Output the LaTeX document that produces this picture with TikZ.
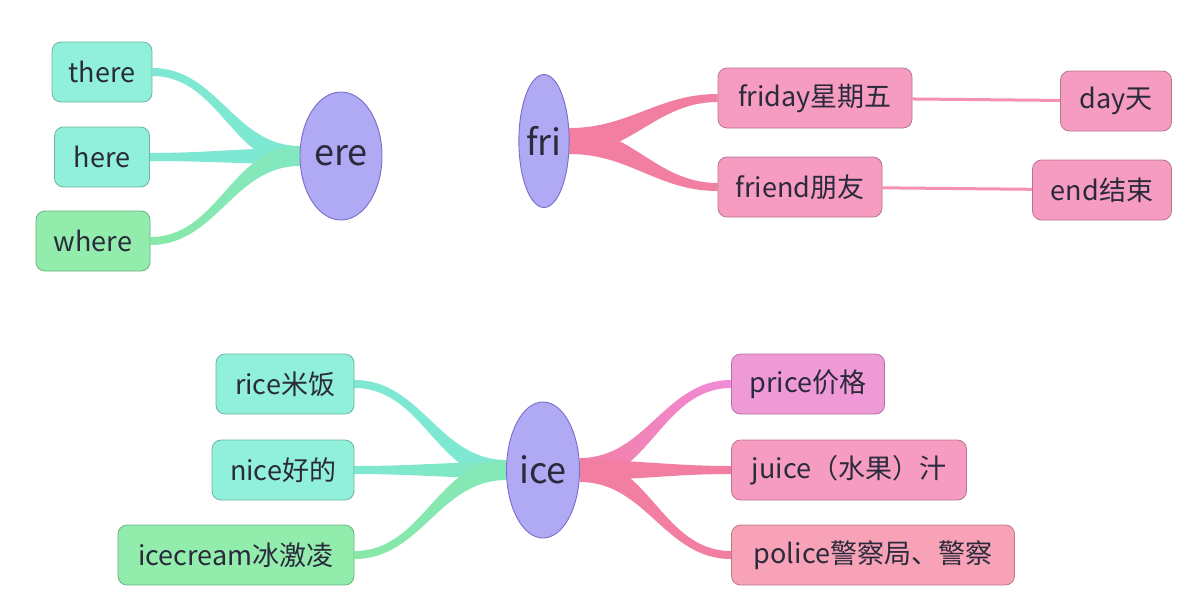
\documentclass[tikz,border=0pt]{standalone}
\usepackage{fontspec}
\setmainfont{Noto Sans CJK SC}
\usetikzlibrary{calc,shapes.geometric,backgrounds}
\definecolor{ink}{HTML}{2A2A3C}
\definecolor{hubfill}{HTML}{B0A9F4}
\definecolor{hubline}{HTML}{7A6CC8}
\definecolor{teal}{HTML}{90F0DA}
\definecolor{mint}{HTML}{92EDAC}
\definecolor{rose}{HTML}{F59CC0}
\definecolor{salmon}{HTML}{F7A2B6}
\definecolor{orchid}{HTML}{EF9AD6}
\definecolor{ribteal}{HTML}{7EE8D2}
\definecolor{ribmint}{HTML}{88E8A8}
\definecolor{ribrose}{HTML}{F27FA2}

% tapered ribbon: left point, right point, left half width, right half width, left colour, right colour
\newcommand{\twig}[6]{%
  \shade[left color=#5, right color=#6]
    ($(#1)+(0,#3)$) to[out=0,in=180] ($(#2)+(0,#4)$)
    -- ($(#2)+(0,-#4)$) to[out=180,in=0] ($(#1)+(0,-#3)$) -- cycle;}

\begin{document}
\begin{tikzpicture}[x=1pt,y=-1pt,
  font=\fontsize{27}{30}\selectfont,
  every node/.append style={text=ink},
  hub/.style={ellipse, draw=hubline, line width=0.9pt, fill=hubfill, inner sep=0pt, font=\fontsize{36}{40}\selectfont},
  leaf/.style={draw=#1!75!black, line width=0.8pt, fill=#1, rounded corners=9pt, minimum height=60pt, inner sep=0pt},
  tail/.style={draw=ribrose!85!white, line width=3pt},
]
\useasboundingbox (0,0) rectangle (1198,614);
% roots
\node[hub, minimum width=82pt, minimum height=128pt] (ere) at (341,156) {ere};
\node[hub, minimum width=48pt, minimum height=133pt] (fri) at (544,141) {fri};
\node[hub, minimum width=73pt, minimum height=136pt] (ice) at (543,470) {ice};
% ere words
\node[leaf=teal, minimum width=100pt] (there) at (102,72) {there};
\node[leaf=teal, minimum width=95pt] (here) at (102,157) {here};
\node[leaf=mint, minimum width=114pt] (where) at (93,241) {where};
% fri words
\node[leaf=rose, minimum width=194pt] (friday) at (815,98) {friday星期五};
\node[leaf=rose, minimum width=164pt] (friend) at (800,187) {friend朋友};
\node[leaf=rose, minimum width=111pt] (day) at (1116,101) {day天};
\node[leaf=rose, minimum width=139pt] (end) at (1102,190) {end结束};
% ice words
\node[leaf=teal, minimum width=138pt] (rice) at (285,384) {rice米饭};
\node[leaf=teal, minimum width=142pt] (nice) at (283,470) {nice好的};
\node[leaf=mint, minimum width=236pt] (icecream) at (236,555) {icecream冰激凌};
\node[leaf=orchid, minimum width=153pt] (price) at (808,384) {price价格};
\node[leaf=rose, minimum width=235pt] (juice) at (849,470) {juice（水果）汁};
\node[leaf=salmon, minimum width=283pt] (police) at (873,555) {police警察局、警察};
% ribbons behind everything
\begin{scope}[on background layer]
  \fill[white] (0,0) rectangle (1198,614);
  \twig{there.east}{ere.west}{4}{10}{ribteal}{ribteal}
  \twig{here.east}{ere.west}{4}{8}{ribteal}{ribteal}
  \twig{where.east}{ere.west}{4}{10}{ribmint}{ribteal!60!ribmint}
  \twig{fri.east}{friday.west}{13}{4}{ribrose}{ribrose}
  \twig{fri.east}{friend.west}{13}{4}{ribrose}{ribrose}
  \twig{rice.east}{ice.west}{4}{10}{ribteal}{ribteal}
  \twig{nice.east}{ice.west}{4}{8}{ribteal}{ribteal!50!ribmint}
  \twig{icecream.east}{ice.west}{4}{10}{ribmint}{ribteal!40!ribmint}
  \twig{ice.east}{price.west}{12}{4}{ribrose}{orchid!90!magenta}
  \twig{ice.east}{juice.west}{10}{4}{ribrose}{ribrose}
  \twig{ice.east}{police.west}{12}{4}{ribrose}{ribrose}
  \draw[tail] (friday) -- (day);
  \draw[tail] (friend) -- (end);
\end{scope}
\end{tikzpicture}
\end{document}
